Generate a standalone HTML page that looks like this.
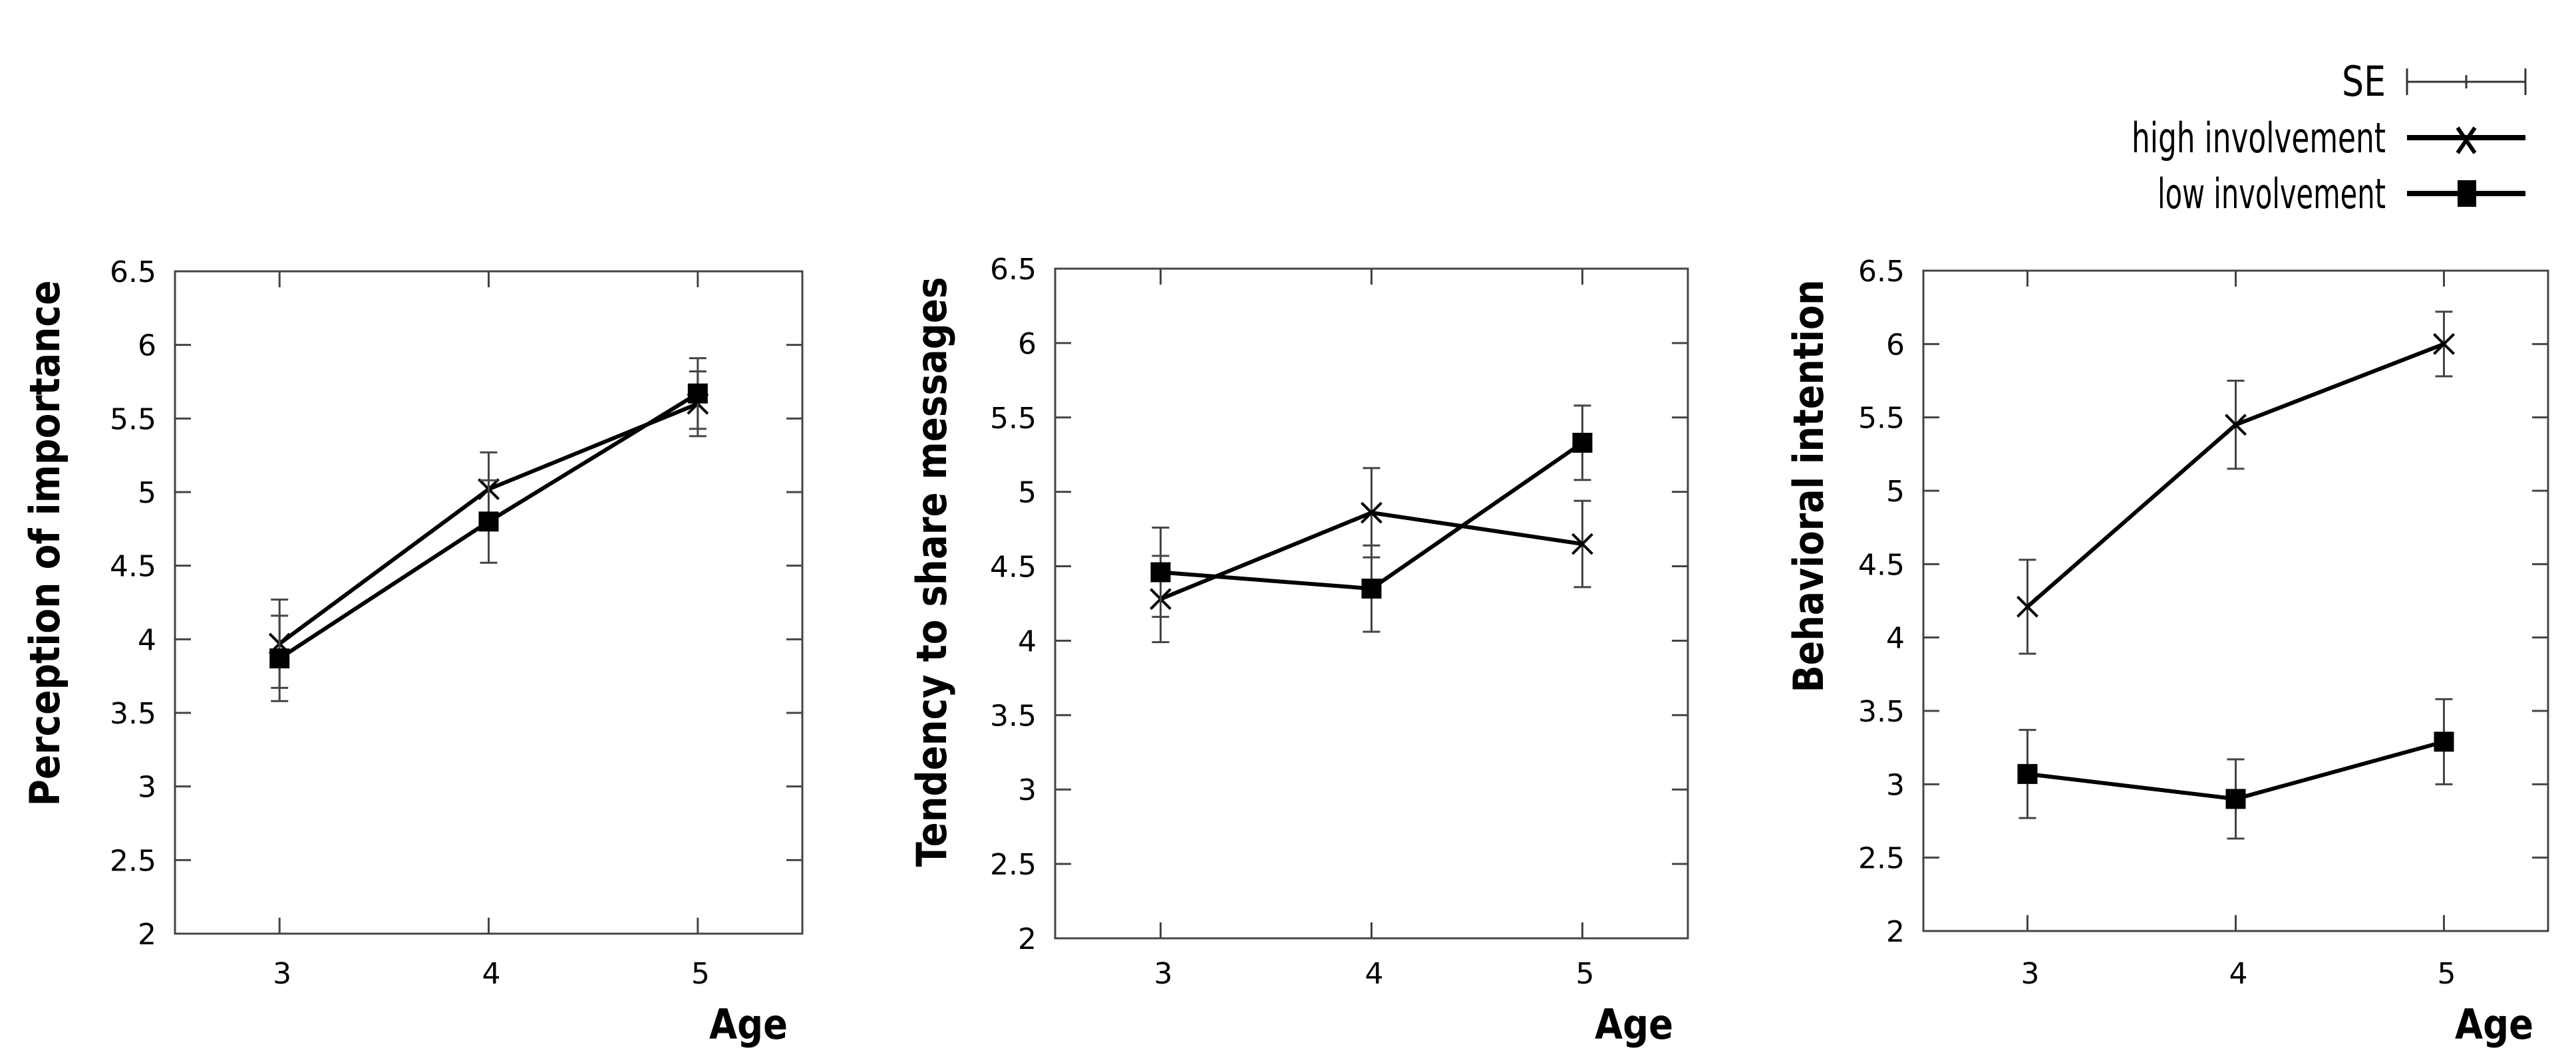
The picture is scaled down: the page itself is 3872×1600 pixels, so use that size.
<!DOCTYPE html>
<html><head><meta charset="utf-8"><style>
html,body{margin:0;padding:0;background:#fff;}
svg{display:block;}
text{font-family:"DejaVu Sans","Liberation Sans",sans-serif;fill:#000;}
</style></head><body>
<svg id="chart" width="3872" height="1600" viewBox="0 0 3872 1600" xmlns="http://www.w3.org/2000/svg">
<g>
<text x="3586" y="144" text-anchor="end" font-size="62" textLength="66" lengthAdjust="spacingAndGlyphs">SE</text>
<g stroke="#333" stroke-width="3"><line x1="3618" y1="123" x2="3796" y2="123"/><line x1="3618" y1="103" x2="3618" y2="143"/><line x1="3796" y1="103" x2="3796" y2="143"/><line x1="3707" y1="113" x2="3707" y2="133"/></g>
<text x="3586" y="229" text-anchor="end" font-size="62" textLength="382" lengthAdjust="spacingAndGlyphs">high involvement</text>
<g stroke="#000" stroke-width="8"><line x1="3618" y1="207" x2="3796" y2="207"/><line x1="3694" y1="192" x2="3720" y2="230" stroke-width="6"/><line x1="3720" y1="192" x2="3694" y2="230" stroke-width="6"/></g>
<text x="3586" y="313" text-anchor="end" font-size="62" textLength="343" lengthAdjust="spacingAndGlyphs">low involvement</text>
<g><line x1="3618" y1="291" x2="3796" y2="291" stroke="#000" stroke-width="8"/><rect x="3694" y="271" width="28" height="40" fill="#000"/></g>
</g>
</svg>
<script>
const ages = [3, 4, 5];
const yTicks = [2, 2.5, 3, 3.5, 4, 4.5, 5, 5.5, 6, 6.5];
const yTickLabels = ["2", "2.5", "3", "3.5", "4", "4.5", "5", "5.5", "6", "6.5"];
const yTitles = ["Perception of importance", "Tendency to share messages", "Behavioral intention"];
const highP1 = [3.97, 5.02, 5.6];
const highSeP1 = [0.3, 0.25, 0.22];
const lowP1 = [3.87, 4.8, 5.67];
const lowSeP1 = [0.29, 0.28, 0.24];
const highP2 = [4.28, 4.86, 4.65];
const highSeP2 = [0.29, 0.3, 0.29];
const lowP2 = [4.46, 4.35, 5.33];
const lowSeP2 = [0.3, 0.29, 0.25];
const highP3 = [4.21, 5.45, 6.0];
const highSeP3 = [0.32, 0.3, 0.22];
const lowP3 = [3.07, 2.9, 3.29];
const lowSeP3 = [0.3, 0.27, 0.29];

const NS = "http://www.w3.org/2000/svg";
const svg = document.getElementById('chart');
function mk(tag, attrs, parent) {
  const e = document.createElementNS(NS, tag);
  for (const k in attrs) e.setAttribute(k, attrs[k]);
  parent.appendChild(e);
  return e;
}
const panels = [
  {L:263, T:408, R:1206, B:1404, titleX:67, titleY:817, titleLen:791, high:highP1, highSe:highSeP1, low:lowP1, lowSe:lowSeP1},
  {L:1586, T:404, R:2537, B:1411, titleX:1400, titleY:860, titleLen:887, high:highP2, highSe:highSeP2, low:lowP2, lowSe:lowSeP2},
  {L:2891, T:407, R:3830, B:1400, titleX:2718, titleY:731, titleLen:621, high:highP3, highSe:highSeP3, low:lowP3, lowSe:lowSeP3}
];
panels.forEach((p, i) => {
  const g = mk('g', {}, svg);
  
  
  const xs = v => p.L + (v - 2.5) / 3 * (p.R - p.L);
  const ys = v => p.B - (v - 2) / 4.5 * (p.B - p.T);
  const frame = mk('rect', {x:p.L, y:p.T, width:p.R - p.L, height:p.B - p.T, fill:'none', stroke:'#444', 'stroke-width':3}, g);
  
  
  yTicks.forEach((t, k) => {
    const y = ys(t);
    mk('line', {x1:p.L, y1:y, x2:p.L + 24, y2:y, stroke:'#444', 'stroke-width':3}, g);
    mk('line', {x1:p.R, y1:y, x2:p.R - 24, y2:y, stroke:'#444', 'stroke-width':3}, g);
    const tl = mk('text', {x:p.L - 28, y:y + 16, 'text-anchor':'end', 'font-size':44}, g);
    tl.textContent = yTickLabels[k];
    
    
  });
  ages.forEach(a => {
    const x = xs(a);
    mk('line', {x1:x, y1:p.B, x2:x, y2:p.B - 24, stroke:'#444', 'stroke-width':3}, g);
    mk('line', {x1:x, y1:p.T, x2:x, y2:p.T + 24, stroke:'#444', 'stroke-width':3}, g);
    const tl = mk('text', {x:x + 4, y:1479, 'text-anchor':'middle', 'font-size':44}, g);
    tl.textContent = String(a);
    
    
  });
  const xt = mk('text', {x:p.R - 22, y:1562, 'text-anchor':'end', 'font-size':62, 'font-weight':'bold', textLength:118, lengthAdjust:'spacingAndGlyphs'}, g);
  xt.textContent = 'Age';
  
  
  const yt = mk('text', {x:0, y:0, 'text-anchor':'middle', 'font-size':62, 'font-weight':'bold', textLength:p.titleLen, lengthAdjust:'spacingAndGlyphs', transform:`translate(${p.titleX + 22},${p.titleY}) rotate(-90)`}, g);
  yt.textContent = yTitles[i];
  
  
  [[p.high, p.highSe, 'high'], [p.low, p.lowSe, 'low']].forEach(([vals, se, nm]) => {
    const sg = mk('g', {}, g);
    
    
    vals.forEach((v, k) => {
      const x = xs(ages[k]);
      const eb = mk('g', {stroke:'#444', 'stroke-width':3}, sg);
      
      
      mk('line', {x1:x, y1:ys(v - se[k]), x2:x, y2:ys(v + se[k])}, eb);
      mk('line', {x1:x - 13, y1:ys(v - se[k]), x2:x + 13, y2:ys(v - se[k])}, eb);
      mk('line', {x1:x - 13, y1:ys(v + se[k]), x2:x + 13, y2:ys(v + se[k])}, eb);
    });
    const pts = vals.map((v, k) => xs(ages[k]) + ',' + ys(v)).join(' ');
    const pl = mk('polyline', {points:pts, fill:'none', stroke:'#000', 'stroke-width':6}, sg);
    
    
    vals.forEach((v, k) => {
      const x = xs(ages[k]), y = ys(v);
      if (nm === 'high') {
        const m = mk('path', {d:`M${x-15},${y-15}L${x+15},${y+15}M${x+15},${y-15}L${x-15},${y+15}`, stroke:'#000', 'stroke-width':4, fill:'none'}, sg);
        
        
      } else {
        const m = mk('rect', {x:x - 15, y:y - 15, width:30, height:30, fill:'#000'}, sg);
        
        
      }
    });
  });
});
</script>
</body></html>
